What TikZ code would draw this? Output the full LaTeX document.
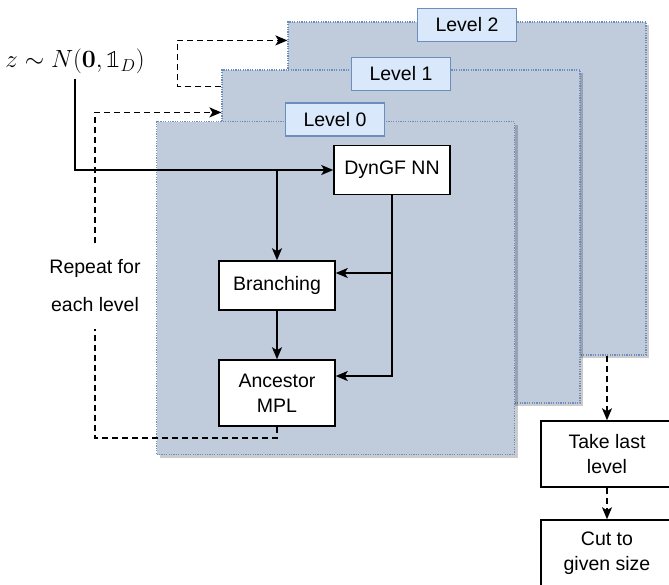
\documentclass[tikz,border=0pt]{standalone}
\usepackage[no-math]{fontspec}
\setsansfont{Liberation Sans}
\newfontfamily\lmmath{latinmodern-math.otf}
\usetikzlibrary{arrows.meta,shadows,calc}
\definecolor{panelfill}{RGB}{192,203,220}
\definecolor{paneldraw}{RGB}{108,142,191}
\definecolor{tagfill}{RGB}{218,232,252}
\newcommand{\idone}{\hbox{\lmmath\char"1D7D9}}

\begin{document}
\begin{tikzpicture}[
    x=1pt, y=-1pt,
    font=\sffamily\fontsize{19.5}{25}\selectfont,
    panel/.style={fill=panelfill, draw=paneldraw, line width=1.2pt, dash pattern=on 1.2pt off 1.2pt,
        minimum width=358pt, minimum height=333pt, inner sep=0pt,
        drop shadow={shadow xshift=3pt, shadow yshift=-3pt, fill=black, opacity=0.2}},
    tag/.style={fill=tagfill, draw=paneldraw, line width=1.2pt, minimum width=99pt, minimum height=33pt, inner sep=0pt},
    block/.style={fill=white, draw, line width=1.5pt, align=center, minimum width=116pt, minimum height=49pt, inner sep=0pt},
    flow/.style={line width=1.5pt, -{Stealth[length=12pt,width=10pt,inset=3pt]}},
    loop/.style={flow, dash pattern=on 6pt off 4pt}
    ]
    \useasboundingbox (0,0) rectangle (669,584);

    % stacked levels
    \node[panel] (p2) at (467,188.5) {};
    \node[tag] (t2) at (467,25) {Level 2};
    \node[panel] (p1) at (401,236.5) {};
    \node[tag] (t1) at (401,74) {Level 1};
    \node[panel] (p0) at (335.5,288) {};
    \node[tag] (t0) at (335,119.5) {Level 0};

    \node[inner xsep=0pt, inner ysep=5pt, font=\fontsize{25}{29}\selectfont] (z) at (75,61.75) {$z \sim N(\mathbf{0}, \idone_D)$};

    \node[block] (dyn) at (392,170) {DynGF NN};
    \node[block] (branch) at (277,285.5) {Branching};
    \node[block, minimum height=66pt] (anc) at (277,393) {Ancestor\\MPL};
    \node[block, minimum width=132pt, minimum height=66pt] (take) at (607,454) {Take last\\level};
    \node[block, minimum width=132pt, minimum height=66pt] (cut) at (607,553) {Cut to\\given size};

    \node[align=center, inner sep=0pt, minimum height=85pt, font=\sffamily\fontsize{19.5}{38}\selectfont] (rep) at (95,286) {Repeat for\\each level};

    \coordinate (bin) at ($(branch.east)+(0,-12.5)$);
    \coordinate (ain) at ($(anc.east)+(0,-17)$);

    \draw[flow] (z.south) |- (dyn.west);
    \draw[flow] (branch.north |- dyn.west) -- (branch.north);
    \draw[flow] (dyn.south) |- (ain);
    \draw[flow] (dyn.south |- bin) -- (bin);
    \draw[flow] (branch) -- (anc);

    % repeat loop
    \draw[line width=1.5pt, dash pattern=on 6pt off 4pt] (anc.south) -- ++(0,11) -| (rep.south);
    \draw[loop] (rep.north) |- ($(p1.north west)+(0,43)$);
    \draw[loop] ($(p1.north west)+(0,17)$) -- ++(-44,0) |- ($(p2.north west)+(0,19)$);

    \draw[loop] (take.north |- p2.south) -- (take.north);
    \draw[loop] (take) -- (cut);
\end{tikzpicture}
\end{document}
